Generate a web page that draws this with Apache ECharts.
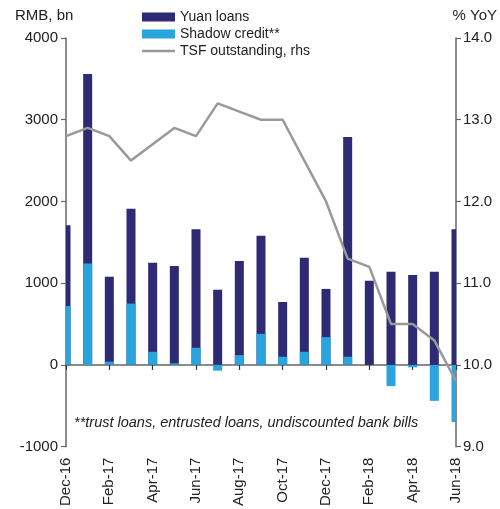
<!DOCTYPE html>
<html>
<head>
<meta charset="utf-8">
<script src="https://cdn.jsdelivr.net/npm/echarts@6/dist/echarts.min.js"></script>
<style>
  html, body { margin: 0; padding: 0; background: #fff; }
  #chart { width: 500px; height: 509px; }
</style>
</head>
<body>
<div id="chart"></div>
<script>
// Monthly new credit (RMB bn) and total social financing growth (% YoY)
const months = ['Dec-16','Jan-17','Feb-17','Mar-17','Apr-17','May-17','Jun-17','Jul-17','Aug-17','Sep-17',
  'Oct-17','Nov-17','Dec-17','Jan-18','Feb-18','Mar-18','Apr-18','May-18','Jun-18'];
const yuanLoans = [1710, 3560, 1080, 1910, 1250, 1210, 1660, 920, 1270, 1580,
  770, 1310, 930, 2790, 1030, 1140, 1100, 1140, 1660];
const shadowCredit = [720, 1240, 40, 750, 160, 20, 210, -70, 120, 380,
  100, 160, 340, 100, 0, -260, -30, -440, -700];
const tsfGrowth = [12.8, 12.9, 12.8, 12.5, 12.7, 12.9, 12.8, 13.2, 13.1, 13.0,
  13.0, 12.5, 12.0, 11.3, 11.2, 10.5, 10.5, 10.3, 9.8];
const leftTicks = { min: -1000, max: 4000, interval: 1000 };
const rightTicks = { min: 9, max: 14, interval: 1 };

const FONT = '"Liberation Sans", Arial, sans-serif';
const NAVY = '#2e2a73';
const BLUE = '#29a4dd';
const GREY = '#999999';
const AXIS = '#666666';
const TEXT = '#222222';
const BAR_W = 9;

// Bars sit on the month points (no boundary gap), so the end bars are
// clipped to the plot area by hand.
function clippedBar(params, api) {
  const idx = api.value(0);
  const val = api.value(1);
  const base = api.coord([idx, 0]);
  const top = api.coord([idx, val]);
  const cs = params.coordSys;
  const shape = echarts.graphic.clipRectByRect(
    { x: base[0] - BAR_W / 2, y: Math.min(base[1], top[1]), width: BAR_W, height: Math.abs(top[1] - base[1]) },
    { x: cs.x, y: cs.y, width: cs.width, height: cs.height }
  );
  return shape && { type: 'rect', shape: shape, style: api.style() };
}

const toPairs = arr => arr.map((v, i) => [i, v]);

const chart = echarts.init(document.getElementById('chart'), null, { renderer: 'canvas' });
chart.setOption({
  animation: false,
  textStyle: { fontFamily: FONT },
  grid: { left: 66, right: 44, top: 38, bottom: 62, containLabel: false },
  legend: {
    orient: 'vertical',
    left: 137,
    top: 5,
    itemWidth: 33,
    itemHeight: 9,
    itemGap: 3,
    textStyle: { fontFamily: FONT, fontSize: 14, color: TEXT },
    data: [
      { name: 'Yuan loans', icon: 'rect' },
      { name: 'Shadow credit**', icon: 'rect' },
      { name: 'TSF outstanding, rhs', icon: 'path://M0,0 L33,0 L33,2.5 L0,2.5 Z', itemStyle: { color: GREY } }
    ]
  },
  xAxis: [
    {
      type: 'category',
      data: months,
      boundaryGap: false,
      axisLine: { onZero: true, onZeroAxisIndex: 0, lineStyle: { color: AXIS, width: 1.5 } },
      axisTick: { show: true, interval: 1, length: 5, lineStyle: { color: '#333', width: 1.2 } },
      axisLabel: { show: false },
      splitLine: { show: false }
    },
    {
      type: 'category',
      data: months,
      position: 'bottom',
      boundaryGap: false,
      axisLine: { show: false, onZero: false },
      axisTick: { show: false },
      axisLabel: { show: true, interval: 1, rotate: 90, margin: 11, fontSize: 15, color: TEXT, fontFamily: FONT },
      splitLine: { show: false }
    }
  ],
  yAxis: [
    {
      type: 'value',
      position: 'left',
      min: leftTicks.min, max: leftTicks.max, interval: leftTicks.interval,
      axisLine: { show: true, lineStyle: { color: AXIS, width: 1.5 } },
      axisTick: { show: true, length: 5, lineStyle: { color: AXIS, width: 1.2 } },
      axisLabel: { fontSize: 15, color: TEXT, margin: 8, fontFamily: FONT, formatter: v => String(v) },
      splitLine: { show: false }
    },
    {
      type: 'value',
      position: 'right',
      min: rightTicks.min, max: rightTicks.max, interval: rightTicks.interval,
      axisLine: { show: true, lineStyle: { color: AXIS, width: 1.5 } },
      axisTick: { show: true, length: 5, lineStyle: { color: AXIS, width: 1.2 } },
      axisLabel: { fontSize: 15, color: TEXT, margin: 7, fontFamily: FONT, formatter: v => v.toFixed(1) },
      splitLine: { show: false }
    }
  ],
  series: [
    {
      name: 'Yuan loans',
      type: 'custom',
      xAxisIndex: 0, yAxisIndex: 0,
      data: toPairs(yuanLoans),
      encode: { x: 0, y: 1 },
      renderItem: clippedBar,
      itemStyle: { color: NAVY },
      z: 2
    },
    {
      name: 'Shadow credit**',
      type: 'custom',
      xAxisIndex: 0, yAxisIndex: 0,
      data: toPairs(shadowCredit),
      encode: { x: 0, y: 1 },
      renderItem: clippedBar,
      itemStyle: { color: BLUE },
      z: 3
    },
    {
      name: 'TSF outstanding, rhs',
      type: 'line',
      xAxisIndex: 0, yAxisIndex: 1,
      data: tsfGrowth,
      symbol: 'none',
      clip: true,
      lineStyle: { color: GREY, width: 2.5 },
      itemStyle: { color: GREY },
      z: 4
    }
  ],
  graphic: [
    { type: 'text', left: 15, top: 8, style: { text: 'RMB, bn', font: '15px ' + FONT, fill: TEXT } },
    { type: 'text', right: 3, top: 8, style: { text: '% YoY', font: '15px ' + FONT, fill: TEXT } },
    { type: 'text', left: 74, top: 415, style: { text: '**trust loans, entrusted loans, undiscounted bank bills', font: 'italic 14.5px ' + FONT, fill: TEXT } }
  ]
});
</script>
</body>
</html>
